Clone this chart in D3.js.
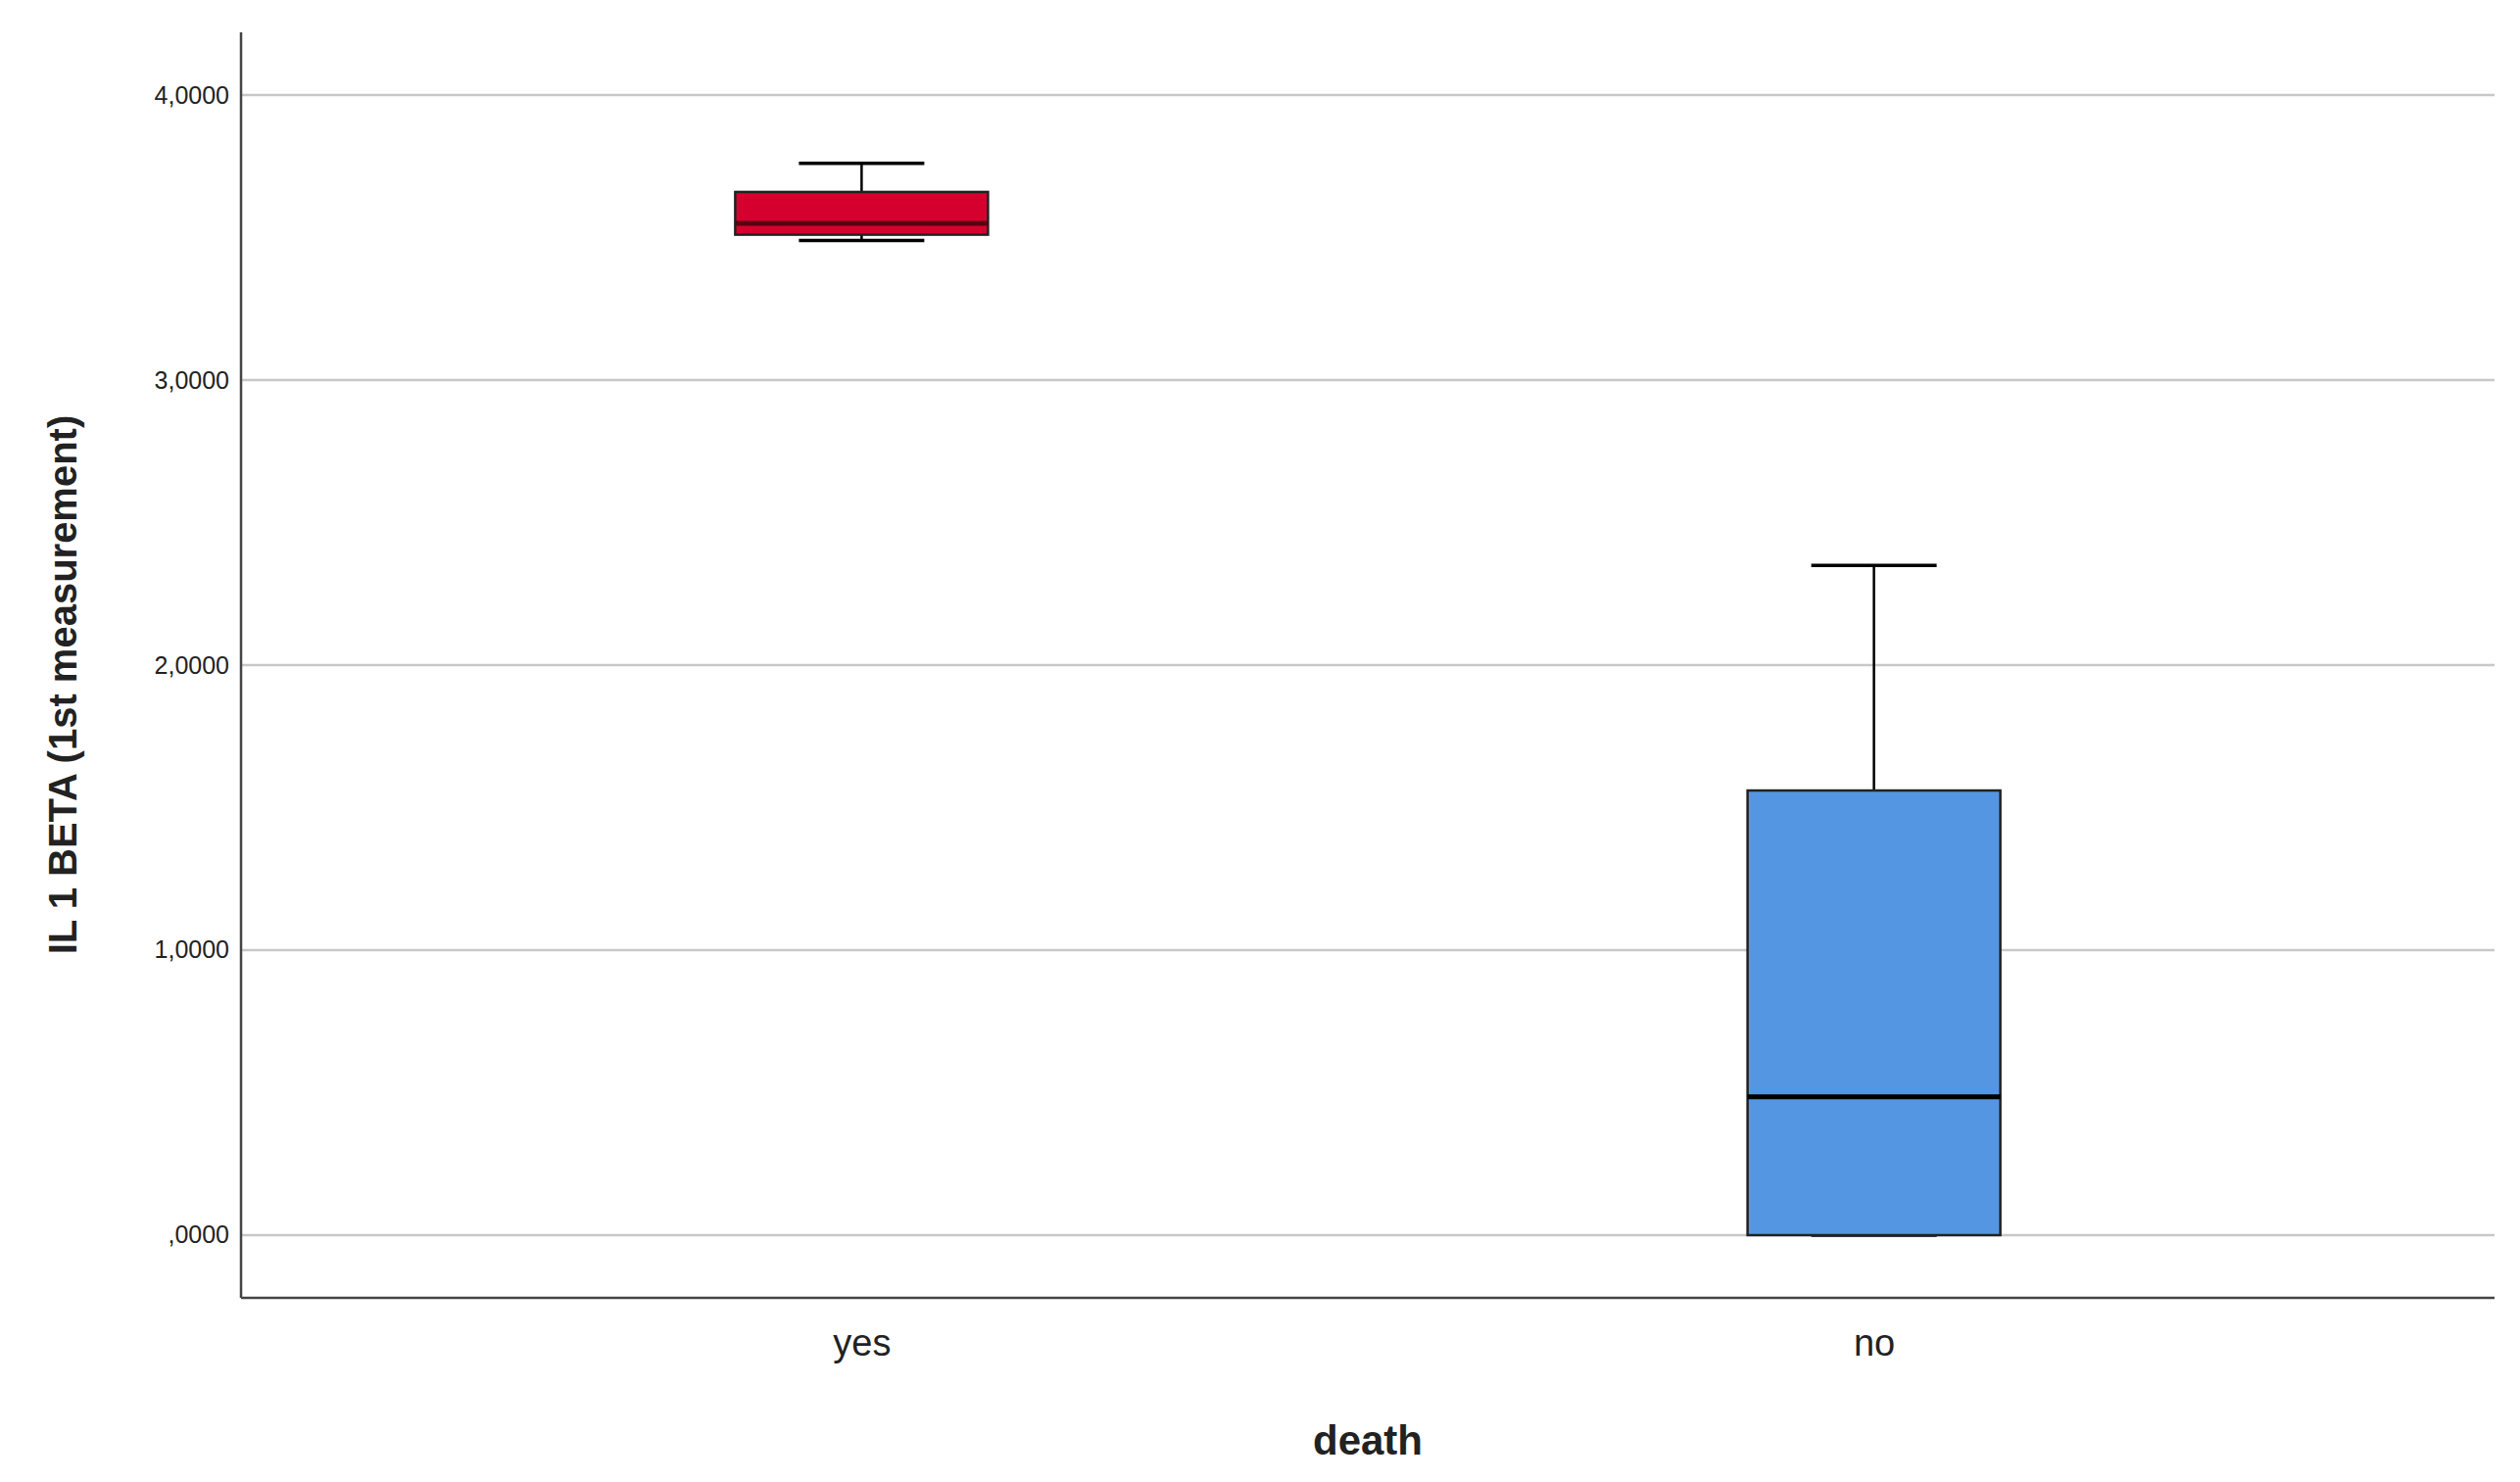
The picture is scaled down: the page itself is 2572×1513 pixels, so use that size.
<!DOCTYPE html>
<html>
<head>
<meta charset="utf-8">
<script src="https://cdn.jsdelivr.net/npm/d3@7"></script>
<style>
  body { margin: 0; background: #fff; }
  text { font-family: "Liberation Sans", Arial, sans-serif; }
</style>
</head>
<body>
<svg id="chart"></svg>
<script>
var categories = ["yes", "no"];
var whiskerLow = [3.49, 0.0];
var q1 = [3.51, 0.0];
var median = [3.55, 0.485];
var q3 = [3.66, 1.56];
var whiskerHigh = [3.76, 2.35];
var colors = ["#d6002f", "#5596e2"];
var tickValues = [0, 1, 2, 3, 4];
var tickLabels = [",0000", "1,0000", "2,0000", "3,0000", "4,0000"];

var width = 2572, height = 1513;
var plotLeft = 246, plotRight = 2546, plotTop = 33, plotBottom = 1325;

var svg = d3.select("#chart").attr("width", width).attr("height", height);

var y = d3.scaleLinear().domain([-0.22, 4.22]).range([plotBottom, plotTop]);
var x = d3.scalePoint().domain(categories).range([plotLeft, plotRight]).padding(0.613);
var boxW = 258, capW = 128;

// gridlines
svg.selectAll(".grid").data(tickValues).enter().append("line")
  .attr("x1", plotLeft).attr("x2", plotRight)
  .attr("y1", function(d) { return y(d); }).attr("y2", function(d) { return y(d); })
  .attr("stroke", "#c8c8c8").attr("stroke-width", 2.5);

// y axis
var yAxis = d3.axisLeft(y).tickValues(tickValues).tickSize(0).tickPadding(12)
  .tickFormat(function(d, i) { return tickLabels[i]; });
var gy = svg.append("g").attr("transform", "translate(" + plotLeft + ",0)").call(yAxis);
gy.select(".domain").remove();
gy.selectAll("text").attr("font-size", 25).attr("fill", "#222");
svg.append("line").attr("x1", plotLeft).attr("x2", plotLeft).attr("y1", plotTop).attr("y2", plotBottom)
  .attr("stroke", "#444").attr("stroke-width", 2.5);

// x axis
var xAxis = d3.axisBottom(x).tickSize(0).tickPadding(32);
var gx = svg.append("g").attr("transform", "translate(0," + plotBottom + ")").call(xAxis);
gx.select(".domain").remove();
gx.selectAll("text").attr("font-size", 38).attr("fill", "#222");
svg.append("line").attr("x1", plotLeft).attr("x2", plotRight).attr("y1", plotBottom).attr("y2", plotBottom)
  .attr("stroke", "#444").attr("stroke-width", 2.5);

// boxes
var g = svg.selectAll(".box").data(categories).enter().append("g");
g.append("line")
  .attr("x1", function(d) { return x(d); }).attr("x2", function(d) { return x(d); })
  .attr("y1", function(d, i) { return y(q3[i]); }).attr("y2", function(d, i) { return y(whiskerHigh[i]); })
  .attr("stroke", "#000").attr("stroke-width", 2.5);
g.append("line")
  .attr("x1", function(d) { return x(d); }).attr("x2", function(d) { return x(d); })
  .attr("y1", function(d, i) { return y(q1[i]); }).attr("y2", function(d, i) { return y(whiskerLow[i]); })
  .attr("stroke", "#000").attr("stroke-width", 2.5);
g.append("line")
  .attr("x1", function(d) { return x(d) - capW / 2; }).attr("x2", function(d) { return x(d) + capW / 2; })
  .attr("y1", function(d, i) { return y(whiskerHigh[i]); }).attr("y2", function(d, i) { return y(whiskerHigh[i]); })
  .attr("stroke", "#000").attr("stroke-width", 3.5);
g.append("line")
  .attr("x1", function(d) { return x(d) - capW / 2; }).attr("x2", function(d) { return x(d) + capW / 2; })
  .attr("y1", function(d, i) { return y(whiskerLow[i]); }).attr("y2", function(d, i) { return y(whiskerLow[i]); })
  .attr("stroke", "#000").attr("stroke-width", 3.5);
g.append("rect")
  .attr("x", function(d) { return x(d) - boxW / 2; }).attr("width", boxW)
  .attr("y", function(d, i) { return y(q3[i]); })
  .attr("height", function(d, i) { return y(q1[i]) - y(q3[i]); })
  .attr("fill", function(d, i) { return colors[i]; })
  .attr("stroke", "#222").attr("stroke-width", 2.5);
g.append("line")
  .attr("x1", function(d) { return x(d) - boxW / 2; }).attr("x2", function(d) { return x(d) + boxW / 2; })
  .attr("y1", function(d, i) { return y(median[i]); }).attr("y2", function(d, i) { return y(median[i]); })
  .attr("stroke", function(d, i) { return i === 0 ? "#5a0010" : "#000"; }).attr("stroke-width", 5);

// axis titles
svg.append("text").attr("x", (plotLeft + plotRight) / 2).attr("y", 1485).attr("text-anchor", "middle")
  .attr("font-size", 42).attr("font-weight", "bold").attr("fill", "#222").text("death");
svg.append("text").attr("transform", "translate(78," + ((plotTop + plotBottom) / 2 + 20) + ") rotate(-90)")
  .attr("text-anchor", "middle").attr("font-size", 40).attr("font-weight", "bold").attr("fill", "#222")
  .text("IL 1 BETA (1st measurement)");
</script>
</body>
</html>
